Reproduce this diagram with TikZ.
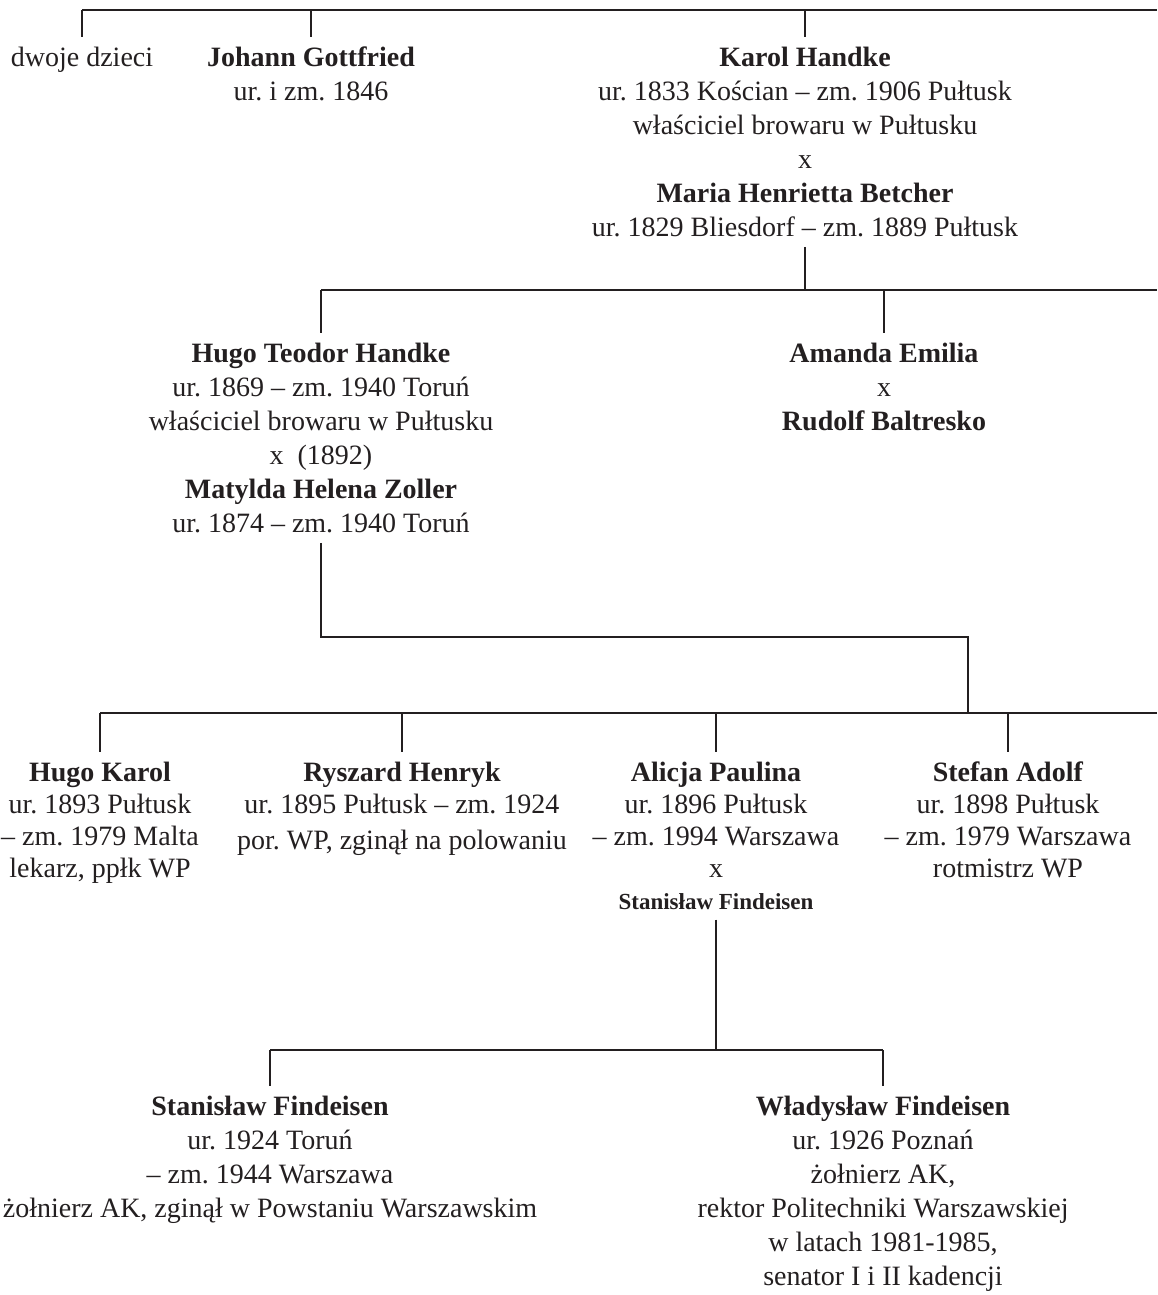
\documentclass[tikz,border=0pt]{standalone}
\usepackage{fontspec}
\setmainfont{Liberation Serif}
\usepackage{tikz}
\usetikzlibrary{positioning}
\definecolor{ink}{RGB}{35,31,32}
\frenchspacing

\begin{document}
\begin{tikzpicture}[
    x=0.5pt, y=-0.5pt,
    % Family tree styles
    line/.style={draw=ink, line width=1.1pt},
    person/.style={
        align=center,
        text=ink,
        inner sep=0pt,
        outer sep=5pt,
        anchor=north,
        font=\fontsize{14}{17}\selectfont
    },
    child/.style={person, font=\fontsize{14}{16}\selectfont}
]
\useasboundingbox (0,0) rectangle (1157,1295);

% Generation 1 (top)
\coordinate (bar1) at (82,10);
\coordinate (bar1end) at (1157,10);
\node[person] (dwoje) at (82,37) {dwoje dzieci};
\node[person] (johann) at (311,37) {\textbf{Johann Gottfried}\\ ur. i zm. 1846};
\node[person] (karol) at (805,37) {\textbf{Karol Handke}\\
    ur. 1833 Kościan – zm. 1906 Pułtusk\\
    właściciel browaru w Pułtusku\\
    x\\
    \textbf{Maria Henrietta Betcher}\\
    ur. 1829 Bliesdorf – zm. 1889 Pułtusk};

\draw[line] (bar1) -- (bar1end);
\foreach \n in {dwoje, johann, karol}
    \draw[line] (\n.north |- bar1) -- (\n.north);

% Generation 2
\coordinate (bar2) at (321,290);
\coordinate (bar2end) at (1157,290);
\node[person] (hugoT) at (321,333) {\textbf{Hugo Teodor Handke}\\
    ur. 1869 – zm. 1940 Toruń\\
    właściciel browaru w Pułtusku\\
    x~~(1892)\\
    \textbf{Matylda Helena Zoller}\\
    ur. 1874 – zm. 1940 Toruń};
\node[person] (amanda) at (884,333) {\textbf{Amanda Emilia}\\ x\\ \textbf{Rudolf Baltresko}};

\draw[line] (karol.south) -- (karol.south |- bar2);
\draw[line] (bar2) -- (bar2end);
\foreach \n in {hugoT, amanda}
    \draw[line] (\n.north |- bar2) -- (\n.north);

% Generation 3
\coordinate (bend3) at (968,637);
\coordinate (bar3) at (100,713);
\coordinate (bar3end) at (1157,713);
\node[child] (hugoK) at (100,752) {\textbf{Hugo Karol}\\
    ur. 1893 Pułtusk\\
    – zm. 1979 Malta\\
    lekarz, ppłk WP};
\node[child] (ryszard) at (402,752) {\textbf{Ryszard Henryk}\\
    ur. 1895 Pułtusk – zm. 1924\\[2pt]
    por. WP, zginął na polowaniu};
\node[child] (alicja) at (716,752) {\textbf{Alicja Paulina}\\
    ur. 1896 Pułtusk\\
    – zm. 1994 Warszawa\\
    x\\
    {\fontsize{11.5}{14}\selectfont\bfseries Stanisław Findeisen}};
\node[child] (stefan) at (1008,752) {\textbf{Stefan Adolf}\\
    ur. 1898 Pułtusk\\
    – zm. 1979 Warszawa\\
    rotmistrz WP};

\draw[line] (hugoT.south) |- (bend3) -- (bend3 |- bar3);
\draw[line] (bar3) -- (bar3end);
\foreach \n in {hugoK, ryszard, alicja, stefan}
    \draw[line] (\n.north |- bar3) -- (\n.north);

% Generation 4 (bottom)
\coordinate (bar4) at (270,1050);
\coordinate (bar4end) at (883,1050);
\node[person] (stanislaw) at (270,1086) {\textbf{Stanisław Findeisen}\\
    ur. 1924 Toruń\\
    – zm. 1944 Warszawa\\
    żołnierz AK, zginął w Powstaniu Warszawskim};
\node[person] (wladyslaw) at (883,1086) {\textbf{Władysław Findeisen}\\
    ur. 1926 Poznań\\
    żołnierz AK,\\
    rektor Politechniki Warszawskiej\\
    w latach 1981-1985,\\
    senator I i II kadencji};

\draw[line] (alicja.south) -- (alicja.south |- bar4);
\draw[line] (bar4) -- (bar4end);
\foreach \n in {stanislaw, wladyslaw}
    \draw[line] (\n.north |- bar4) -- (\n.north);
\end{tikzpicture}
\end{document}
